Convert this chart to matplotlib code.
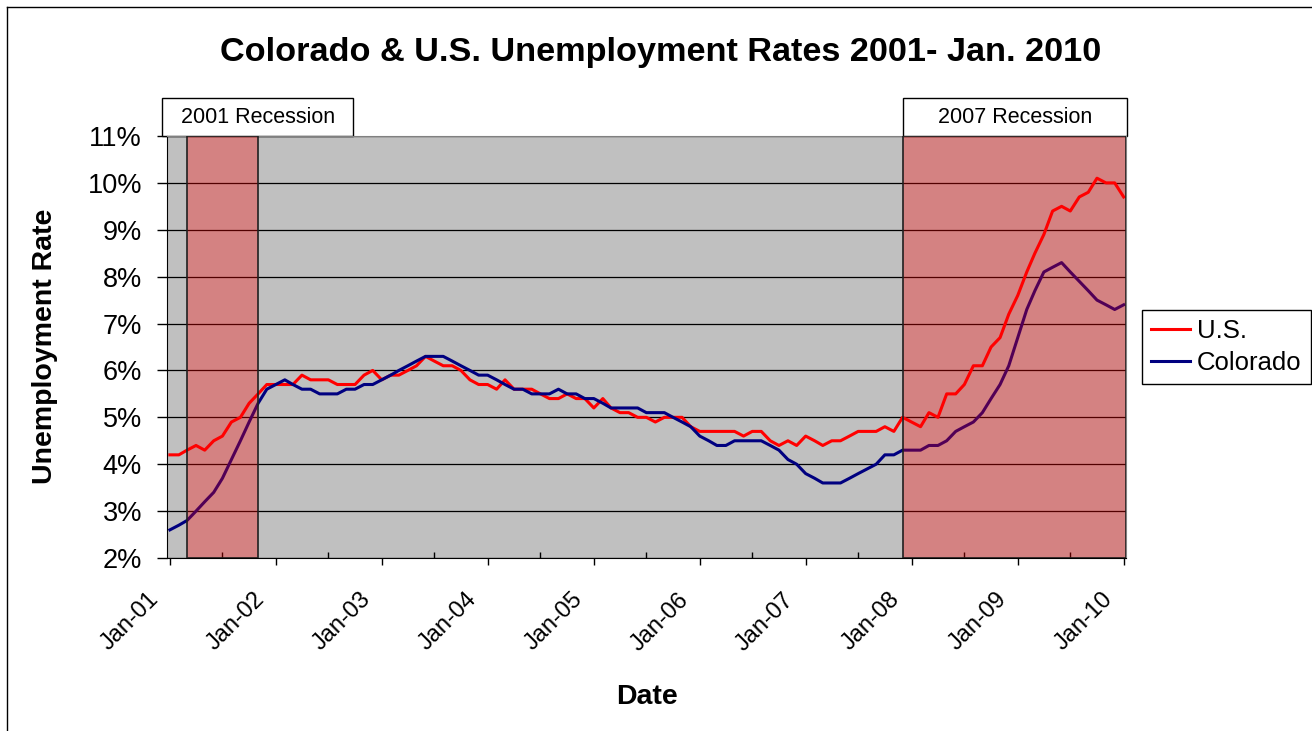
import matplotlib
matplotlib.use("Agg")
import matplotlib.pyplot as plt
import matplotlib.dates as mdates
from matplotlib.patches import Rectangle
from matplotlib.lines import Line2D
from matplotlib.transforms import ScaledTranslation
import pandas as pd

plt.rcParams["font.family"] = ["Liberation Sans", "DejaVu Sans"]

# monthly rates, Jan 2001 .. Jan 2010
months = pd.date_range("2001-01-01", "2010-01-01", freq="MS")

us_rate = [
    4.2, 4.2, 4.3, 4.4, 4.3, 4.5, 4.6, 4.9, 5.0, 5.3, 5.5, 5.7,
    5.7, 5.7, 5.7, 5.9, 5.8, 5.8, 5.8, 5.7, 5.7, 5.7, 5.9, 6.0,
    5.8, 5.9, 5.9, 6.0, 6.1, 6.3, 6.2, 6.1, 6.1, 6.0, 5.8, 5.7,
    5.7, 5.6, 5.8, 5.6, 5.6, 5.6, 5.5, 5.4, 5.4, 5.5, 5.4, 5.4,
    5.2, 5.4, 5.2, 5.1, 5.1, 5.0, 5.0, 4.9, 5.0, 5.0, 5.0, 4.8,
    4.7, 4.7, 4.7, 4.7, 4.7, 4.6, 4.7, 4.7, 4.5, 4.4, 4.5, 4.4,
    4.6, 4.5, 4.4, 4.5, 4.5, 4.6, 4.7, 4.7, 4.7, 4.8, 4.7, 5.0,
    4.9, 4.8, 5.1, 5.0, 5.5, 5.5, 5.7, 6.1, 6.1, 6.5, 6.7, 7.2,
    7.6, 8.1, 8.5, 8.9, 9.4, 9.5, 9.4, 9.7, 9.8, 10.1, 10.0, 10.0,
    9.7,
]

colorado_rate = [
    2.6, 2.7, 2.8, 3.0, 3.2, 3.4, 3.7, 4.1, 4.5, 4.9, 5.3, 5.6,
    5.7, 5.8, 5.7, 5.6, 5.6, 5.5, 5.5, 5.5, 5.6, 5.6, 5.7, 5.7,
    5.8, 5.9, 6.0, 6.1, 6.2, 6.3, 6.3, 6.3, 6.2, 6.1, 6.0, 5.9,
    5.9, 5.8, 5.7, 5.6, 5.6, 5.5, 5.5, 5.5, 5.6, 5.5, 5.5, 5.4,
    5.4, 5.3, 5.2, 5.2, 5.2, 5.2, 5.1, 5.1, 5.1, 5.0, 4.9, 4.8,
    4.6, 4.5, 4.4, 4.4, 4.5, 4.5, 4.5, 4.5, 4.4, 4.3, 4.1, 4.0,
    3.8, 3.7, 3.6, 3.6, 3.6, 3.7, 3.8, 3.9, 4.0, 4.2, 4.2, 4.3,
    4.3, 4.3, 4.4, 4.4, 4.5, 4.7, 4.8, 4.9, 5.1, 5.4, 5.7, 6.1,
    6.7, 7.3, 7.7, 8.1, 8.2, 8.3, 8.1, 7.9, 7.7, 7.5, 7.4, 7.3,
    7.4,
]

recession_start = ["2001-03-01", "2007-12-01"]
recession_end = ["2001-11-01", "2010-01-09"]
recession_names = ["2001 Recession", "2007 Recession"]

y_ticks = [2, 3, 4, 5, 6, 7, 8, 9, 10, 11]

W, H = 1312, 731
fig = plt.figure(figsize=(W / 100, H / 100), dpi=100)
ax = fig.add_axes([167 / W, 1 - 558 / H, 959 / W, 422 / H])
ax.set_facecolor("#C0C0C0")

ax.plot(months, us_rate, color="#FF0000", lw=2.2, label="U.S.", zorder=3)
ax.plot(months, colorado_rate, color="#000080", lw=2.2, label="Colorado", zorder=3)

# translucent recession bands drawn on top of the lines
for s, e in zip(recession_start, recession_end):
    ax.axvspan(pd.Timestamp(s), pd.Timestamp(e), facecolor=(1, 0, 0, 0.32),
               edgecolor="#202020", lw=1.2, zorder=4)

ax.set_xlim(pd.Timestamp("2000-12-22"), pd.Timestamp("2010-01-09"))
ax.set_ylim(2, 11)
ax.set_yticks(y_ticks)
ax.set_yticklabels([f"{v}%" for v in y_ticks])
ax.yaxis.grid(True, color="black", lw=0.9)
ax.set_axisbelow(True)

ax.xaxis.set_major_locator(mdates.YearLocator())
ax.xaxis.set_major_formatter(mdates.DateFormatter("%b-%y"))
ax.xaxis.set_minor_locator(mdates.MonthLocator(bymonth=7))
ax.tick_params(axis="x", which="major", direction="out", length=5, width=1,
               labelsize=17, pad=17)
ax.tick_params(axis="x", which="minor", direction="in", length=4, width=1)
ax.tick_params(axis="y", direction="out", length=7, width=1, labelsize=19.5, pad=11)
shift = ScaledTranslation(-7 / 100, 0, fig.dpi_scale_trans)
for lab in ax.get_xticklabels():
    lab.set_rotation(45)
    lab.set_ha("right")
    lab.set_va("top")
    lab.set_transform(lab.get_transform() + shift)

for side in ("top", "right"):
    ax.spines[side].set_color("#808080")
for side in ("left", "bottom"):
    ax.spines[side].set_color("black")

# recession label boxes above the plot
box_x = [-0.005, 0.7675]
box_w = [0.199, 0.2335]
for bx, bw, name in zip(box_x, box_w, recession_names):
    ax.add_patch(Rectangle((bx, 1.0), bw, 0.09, transform=ax.transAxes,
                           facecolor="white", edgecolor="black", lw=1, clip_on=False))
    ax.text(bx + bw / 2, 1.045, name, transform=ax.transAxes, ha="center",
            va="center", fontsize=15.5)

ax.legend(loc="upper left", bbox_to_anchor=(1142 / W, 1 - 310 / H),
          bbox_transform=fig.transFigure, fontsize=18.5, frameon=True,
          fancybox=False, edgecolor="black", framealpha=1, borderaxespad=0,
          handlelength=1.5, handletextpad=0.3, borderpad=0.35, labelspacing=0.3)

fig.text(661 / W, 1 - 53 / H, "Colorado & U.S. Unemployment Rates 2001- Jan. 2010",
         ha="center", va="center", fontsize=24.7, weight="bold")
fig.text(45 / W, 1 - 346 / H, "Unemployment Rate", rotation=90, ha="center",
         va="center", fontsize=20.5, weight="bold")
fig.text(647 / W, 1 - 697 / H, "Date", ha="center", va="center",
         fontsize=20.5, weight="bold")

# outer chart frame
fig.add_artist(Line2D([7 / W, 7 / W], [0, 1 - 7 / H], color="black", lw=1))
fig.add_artist(Line2D([7 / W, 1], [1 - 7 / H, 1 - 7 / H], color="black", lw=1))

fig.savefig("out.png", dpi=100)
